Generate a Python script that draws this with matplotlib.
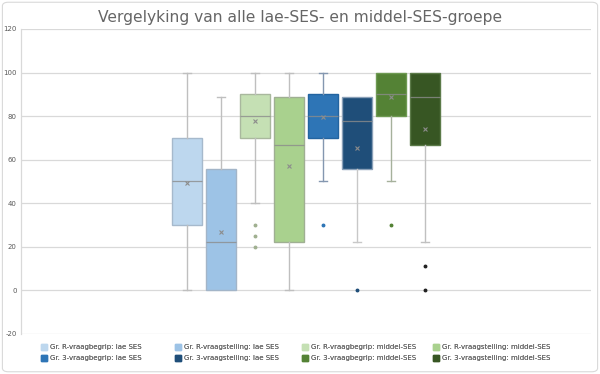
import matplotlib
matplotlib.use("Agg")
import matplotlib.pyplot as plt
from matplotlib.patches import Patch, FancyBboxPatch

title = "Vergelyking van alle lae-SES- en middel-SES-groepe"
labels = ["Gr. R-vraagbegrip: lae SES", "Gr. R-vraagstelling: lae SES",
          "Gr. R-vraagbegrip: middel-SES", "Gr. R-vraagstelling: middel-SES",
          "Gr. 3-vraagbegrip: lae SES", "Gr. 3-vraagstelling: lae SES",
          "Gr. 3-vraagbegrip: middel-SES", "Gr. 3-vraagstelling: middel-SES"]
whis_lo = [0, 0, 40, 0, 50, 22.2, 50, 22.2]
q1 = [30, 0, 70, 22.2, 70, 55.6, 80, 66.7]
median = [50, 22.2, 80, 66.7, 80, 77.8, 90, 88.9]
q3 = [70, 55.6, 90, 88.9, 90, 88.9, 100, 100]
whis_hi = [100, 88.9, 100, 100, 100, 88.9, 100, 100]
means = [49.5, 27.0, 77.7, 57.0, 79.7, 65.3, 88.7, 74.0]
outliers = [[], [], [30, 25, 20], [], [30], [0], [30], [11.1, 0]]

colors = ["#BDD7EE", "#9DC3E6", "#C5E0B4", "#A9D18E",
          "#2E75B6", "#1F4E79", "#548235", "#375623"]
edge_colors = ["#A6B9CC", "#A3B5C8", "#A9B89E", "#9FAF93",
               "#2364A0", "#8AA0B8", "#6E9A52", "#5B7A48"]
whisker_colors = ["#BFBFBF", "#BFBFBF", "#BFBFBF", "#BFBFBF",
                  "#8497B0", "#C8C8C8", "#A6B19C", "#C0C0C0"]
flier_colors = ["#9DC3E6", "#9DC3E6", "#A0B090", "#A9D18E",
                "#2E75B6", "#1F4E79", "#548235", "#222222"]
yticks = [-20, 0, 20, 40, 60, 80, 100, 120]

fig = plt.figure(figsize=(6.0, 3.74), dpi=100)
fig.patch.set_facecolor("white")
ax = fig.add_axes([0.035, 0.107, 0.95, 0.8155])

for pos in range(len(labels)):
    stats = [dict(med=median[pos], q1=q1[pos], q3=q3[pos], whislo=whis_lo[pos],
                  whishi=whis_hi[pos], fliers=outliers[pos], mean=means[pos])]
    art = ax.bxp(stats, positions=[pos], widths=0.91, patch_artist=True,
                 showmeans=True, capwidths=0.22,
                 boxprops=dict(facecolor=colors[pos], edgecolor=edge_colors[pos], linewidth=1.0),
                 medianprops=dict(color="#8C8C8C", linewidth=0.9, alpha=0.8),
                 whiskerprops=dict(color=whisker_colors[pos], linewidth=1.0),
                 capprops=dict(color=whisker_colors[pos], linewidth=1.0),
                 meanprops=dict(marker="x", markersize=3.5, markeredgecolor="#8C8C8C",
                                markeredgewidth=0.8),
                 flierprops=dict(marker="o", markersize=1.8, markerfacecolor=flier_colors[pos],
                                 markeredgecolor=flier_colors[pos]),
                 zorder=3)
    # hide caps that coincide with the box edge
    if whis_hi[pos] == q3[pos]:
        art["caps"][1].set_visible(False)
    if whis_lo[pos] == q1[pos]:
        art["caps"][0].set_visible(False)

w = 570.0 / 34.0
ax.set_xlim(3.5 - w / 2, 3.5 + w / 2)
ax.set_ylim(-20, 120)
ax.set_yticks(yticks)
ax.set_yticklabels([str(v) for v in yticks])
ax.set_xticks([])
ax.tick_params(axis="y", length=0, labelsize=5, labelcolor="#595959", pad=3)
ax.grid(axis="y", color="#D9D9D9", linewidth=0.9, zorder=0)
ax.set_axisbelow(True)
for s in ["top", "right", "bottom"]:
    ax.spines[s].set_visible(False)
ax.spines["left"].set_color("#D9D9D9")
ax.spines["left"].set_linewidth(0.9)

fig.text(0.5, 0.953, title, ha="center", va="center", fontsize=11.2,
         color="#666666")

# legend: 4 fixed-width columns of 2 rows each
col_x = [42, 176, 303, 434]
for c in range(4):
    idx = [c, c + 4]
    hs = [Patch(facecolor=colors[k], edgecolor=colors[k]) for k in idx]
    leg = fig.legend(hs, [labels[k] for k in idx], loc="upper left",
                     bbox_to_anchor=((col_x[c] - 1) / 600.0, 1 - 344 / 374.0),
                     ncol=1, frameon=False, fontsize=5, labelcolor="#666666",
                     handlelength=0.9, handleheight=0.9, handletextpad=0.45,
                     labelspacing=0.7, borderpad=0, borderaxespad=0)
    fig.add_artist(leg)

border = FancyBboxPatch((0.004, 0.006), 0.992, 0.988,
                        boxstyle="round,pad=0,rounding_size=0.01",
                        transform=fig.transFigure, facecolor="none",
                        edgecolor="#D9D9D9", linewidth=0.8)
fig.patches.append(border)

fig.savefig("out.png", dpi=100)
